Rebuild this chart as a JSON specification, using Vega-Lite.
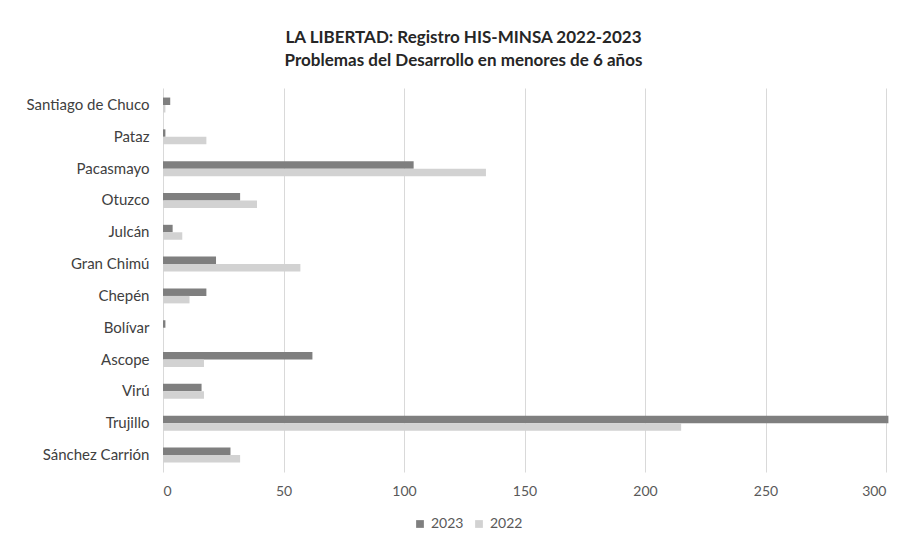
{
  "$schema": "https://vega.github.io/schema/vega-lite/v6.json",
  "autosize": {"type": "none"},
  "width": 723,
  "height": 384,
  "padding": {"left": 163, "top": 88, "right": 21, "bottom": 78},
  "background": "white",
  "title": {
    "text": ["LA LIBERTAD: Registro HIS-MINSA 2022-2023", "Problemas del Desarrollo en menores de 6 años"],
    "font": "Lato",
    "fontSize": 17,
    "fontWeight": "bold",
    "color": "#262626",
    "anchor": "middle",
    "dx": -61,
    "offset": 18,
    "lineHeight": 23
  },
  "config": {
    "view": {"stroke": null},
    "font": "Lato"
  },
  "data": {
    "values": [
      {"provincia": "Santiago de Chuco", "anio": "2023", "casos": 3},
      {"provincia": "Santiago de Chuco", "anio": "2022", "casos": 1},
      {"provincia": "Pataz", "anio": "2023", "casos": 1},
      {"provincia": "Pataz", "anio": "2022", "casos": 18},
      {"provincia": "Pacasmayo", "anio": "2023", "casos": 104},
      {"provincia": "Pacasmayo", "anio": "2022", "casos": 134},
      {"provincia": "Otuzco", "anio": "2023", "casos": 32},
      {"provincia": "Otuzco", "anio": "2022", "casos": 39},
      {"provincia": "Julcán", "anio": "2023", "casos": 4},
      {"provincia": "Julcán", "anio": "2022", "casos": 8},
      {"provincia": "Gran Chimú", "anio": "2023", "casos": 22},
      {"provincia": "Gran Chimú", "anio": "2022", "casos": 57},
      {"provincia": "Chepén", "anio": "2023", "casos": 18},
      {"provincia": "Chepén", "anio": "2022", "casos": 11},
      {"provincia": "Bolívar", "anio": "2023", "casos": 1},
      {"provincia": "Bolívar", "anio": "2022", "casos": 0},
      {"provincia": "Ascope", "anio": "2023", "casos": 62},
      {"provincia": "Ascope", "anio": "2022", "casos": 17},
      {"provincia": "Virú", "anio": "2023", "casos": 16},
      {"provincia": "Virú", "anio": "2022", "casos": 17},
      {"provincia": "Trujillo", "anio": "2023", "casos": 301},
      {"provincia": "Trujillo", "anio": "2022", "casos": 215},
      {"provincia": "Sánchez Carrión", "anio": "2023", "casos": 28},
      {"provincia": "Sánchez Carrión", "anio": "2022", "casos": 32}
    ]
  },
  "mark": {"type": "bar", "clip": false},
  "encoding": {
    "y": {
      "field": "provincia",
      "type": "nominal",
      "sort": ["Santiago de Chuco", "Pataz", "Pacasmayo", "Otuzco", "Julcán", "Gran Chimú", "Chepén", "Bolívar", "Ascope", "Virú", "Trujillo", "Sánchez Carrión"],
      "scale": {"paddingInner": 0.53, "paddingOuter": 0.3},
      "axis": {
        "title": null,
        "ticks": false,
        "domain": false,
        "labelFontSize": 15,
        "labelColor": "#404040",
        "labelPadding": 14
      }
    },
    "yOffset": {
      "field": "anio",
      "type": "nominal",
      "sort": ["2023", "2022"],
      "scale": {"paddingInner": 0}
    },
    "x": {
      "field": "casos",
      "type": "quantitative",
      "scale": {"domain": [0, 300], "nice": false},
      "axis": {
        "title": null,
        "values": [0, 50, 100, 150, 200, 250, 300],
        "ticks": false,
        "domain": false,
        "gridColor": "#d9d9d9",
        "labelFontSize": 14,
        "labelColor": "#595959",
        "labelPadding": 12
      }
    },
    "color": {
      "field": "anio",
      "type": "nominal",
      "sort": ["2023", "2022"],
      "scale": {"domain": ["2023", "2022"], "range": ["#7f7f7f", "#d2d2d2"]},
      "legend": {
        "title": null,
        "orient": "none",
        "direction": "horizontal",
        "legendX": 250,
        "legendY": 429,
        "symbolType": "square",
        "symbolSize": 60,
        "labelFontSize": 14,
        "labelColor": "#595959",
        "columnPadding": 8
      }
    }
  }
}
